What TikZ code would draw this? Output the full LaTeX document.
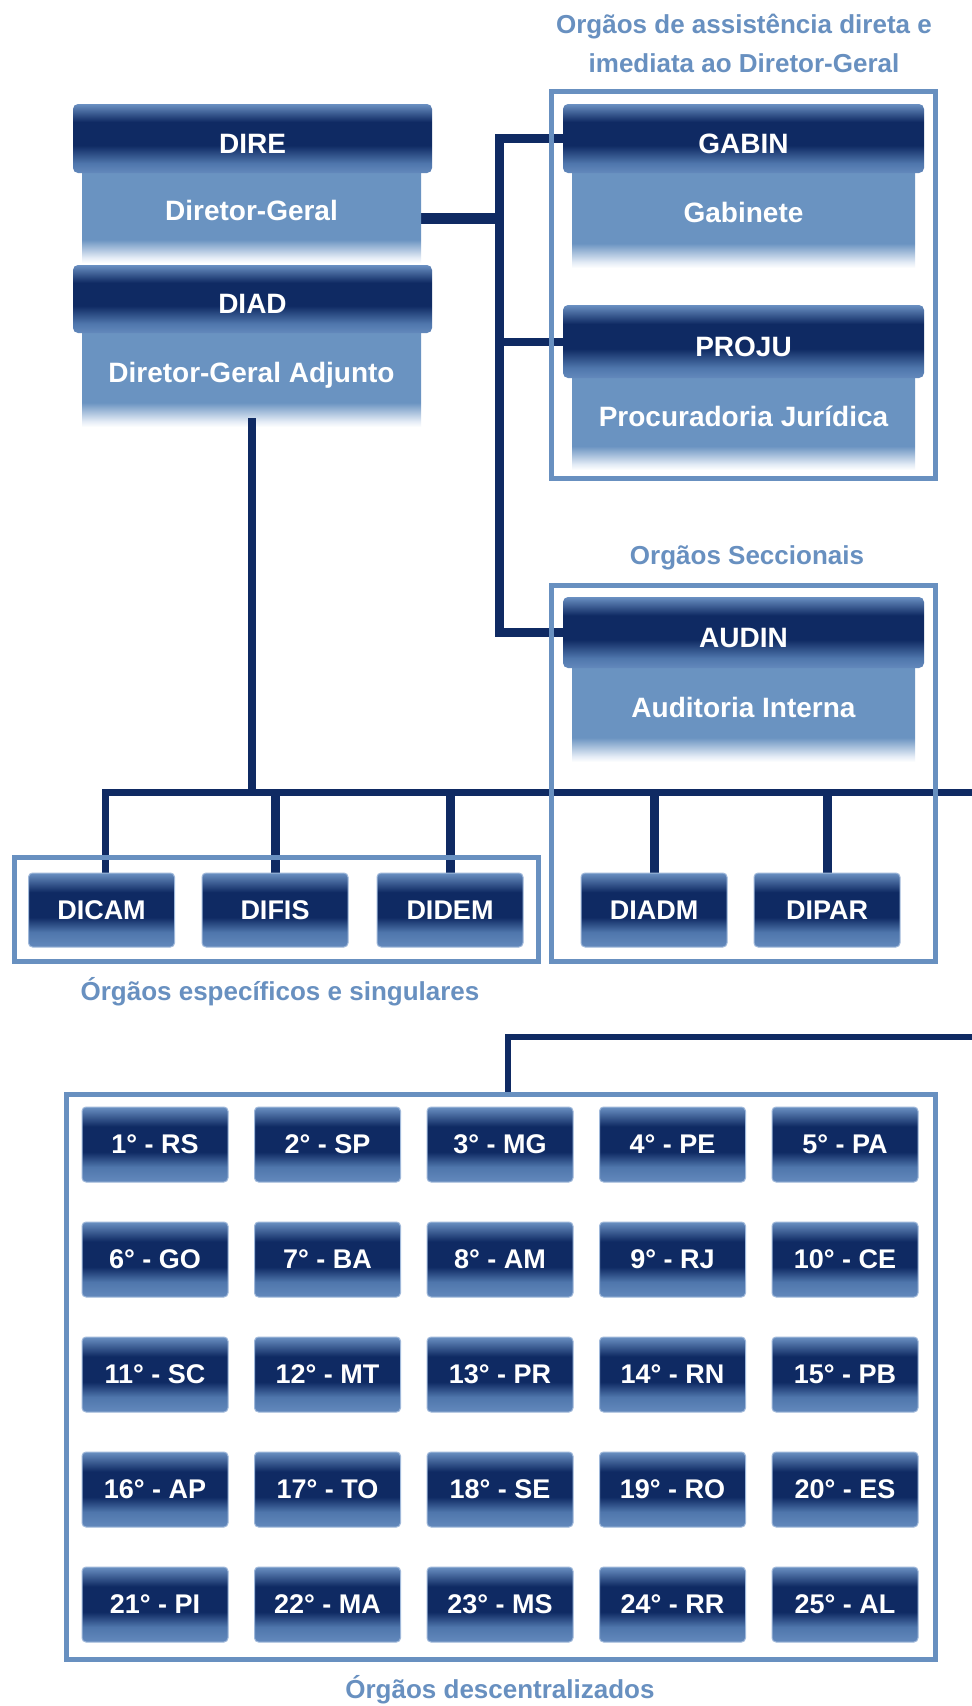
\documentclass[tikz,border=0pt]{standalone}
\usepackage{fontspec}
\setmainfont{Liberation Sans}
\definecolor{navy}{HTML}{0F2A63}
\definecolor{steel}{HTML}{6A93C1}
\definecolor{frame}{HTML}{6890C0}
\definecolor{htop}{HTML}{6A90C2}
\definecolor{hlow}{HTML}{4F76AC}
\definecolor{hbot}{HTML}{6389BC}
\definecolor{bpale}{HTML}{E4ECF6}
\definecolor{bedge}{HTML}{9FB8DA}
\pgfdeclareverticalshading{hdrshade}{100bp}{color(0bp)=(hbot); color(25bp)=(hbot); color(32bp)=(hlow); color(45bp)=(navy); color(62bp)=(navy); color(75bp)=(htop); color(100bp)=(htop)}
\pgfdeclareverticalshading{bodyshade}{100bp}{color(0bp)=(white); color(25bp)=(white); color(28bp)=(bpale); color(38bp)=(steel); color(75bp)=(steel); color(100bp)=(steel)}
\pgfdeclareverticalshading{boxshade}{100bp}{color(0bp)=(hbot); color(25bp)=(hbot); color(35bp)=(hlow); color(45bp)=(navy); color(62bp)=(navy); color(75bp)=(htop); color(100bp)=(htop)}
\pgfdeclarelayer{bgl}
\pgfdeclarelayer{connl}
\pgfdeclarelayer{framel}
\pgfsetlayers{bgl,connl,framel,main}
\newcommand\hdrfont{\fontsize{28}{34}\selectfont\bfseries}
\newcommand\boxfont{\fontsize{27}{32}\selectfont\bfseries}
\newcommand\ttlfont{\fontsize{26}{39}\selectfont\bfseries}
\begin{document}
\begin{tikzpicture}[x=1pt,y=-1pt,
  hdr/.style={shade, shading=hdrshade, rounded corners=5pt, inner sep=0pt, outer sep=0pt, text=white, font=\hdrfont, minimum width=359pt, text height=29pt, text depth=0pt},
  bodybox/.style={shade, shading=bodyshade, inner sep=0pt, outer sep=0pt, text=white, font=\hdrfont, minimum width=339pt, text height=20pt, text depth=16pt},
  gbox/.style={shade, shading=boxshade, rounded corners=4pt, draw=bedge, line width=1pt, minimum width=146pt, minimum height=74pt, inner sep=0pt, outer sep=0pt, text=white, font=\boxfont},
  frm/.style={draw=frame, line width=5pt, inner sep=0pt, outer sep=0pt},
  ttl/.style={text=frame, font=\ttlfont, align=center},
  conn/.style={draw=navy, line width=8pt}]
\begin{pgfonlayer}{bgl}
\fill[white] (0,0) rectangle (972,1706);
\end{pgfonlayer}
\useasboundingbox (0,0) rectangle (972,1706);

% titles
\node[ttl] (t1) at (744,43) {Orgãos de assistência direta e\\imediata ao Diretor-Geral};
\node[ttl] (t2) at (747,558) {Orgãos Seccionais};
\node[ttl] (t3) at (280,992) {Órgãos específicos e singulares};
\node[ttl] (t4) at (500,1690) {Órgãos descentralizados};

% left column
\node[bodybox, minimum height=90pt] (direb) at (251.5,218) {Diretor-Geral};
\node[hdr, minimum height=69pt] (dire) at (252.5,138.5) {DIRE};
\node[bodybox, minimum height=94pt] (diadb) at (251.5,380) {Diretor-Geral Adjunto};
\node[hdr, minimum height=68pt] (diad) at (252.5,299) {DIAD};

% right column
\node[bodybox, minimum width=343pt, minimum height=95pt] (gabinb) at (743.5,220.5) {Gabinete};
\node[hdr, minimum width=361pt, minimum height=69pt] (gabin) at (743.5,138.5) {GABIN};
\node[bodybox, minimum width=343pt, minimum height=92pt] (projub) at (743.5,424) {Procuradoria Jurídica};
\node[hdr, minimum width=361pt, minimum height=73pt] (proju) at (743.5,341.5) {PROJU};
\node[bodybox, minimum width=343pt, minimum height=94pt] (audinb) at (743.5,715) {Auditoria Interna};
\node[hdr, minimum width=361pt, minimum height=71pt] (audin) at (743.5,632.5) {AUDIN};

% second level
\node[gbox] (dicam) at (101.5,910) {DICAM};
\node[gbox] (difis) at (275,910) {DIFIS};
\node[gbox] (didem) at (450,910) {DIDEM};
\node[gbox] (diadm) at (654,910) {DIADM};
\node[gbox] (dipar) at (827,910) {DIPAR};

% regional grid
\foreach \lab [count=\i from 0] in {1° - RS,2° - SP,3° - MG,4° - PE,5° - PA,6° - GO,7° - BA,8° - AM,9° - RJ,10° - CE,11° - SC,12° - MT,13° - PR,14° - RN,15° - PB,16° - AP,17° - TO,18° - SE,19° - RO,20° - ES,21° - PI,22° - MA,23° - MS,24° - RR,25° - AL}{
  \pgfmathtruncatemacro\col{mod(\i,5)}
  \pgfmathtruncatemacro\row{int(\i/5)}
  \node[gbox, minimum height=75pt] (r\i) at ({155+172.5*\col},{1144.5+115*\row}) {\lab};
}

% frames
\begin{pgfonlayer}{framel}
\node[frm, minimum width=384pt, minimum height=387pt] (f1) at (743,284.5) {};
\node[frm, minimum width=384pt, minimum height=376pt] (f2) at (743,773) {};
\node[frm, minimum width=524pt, minimum height=104pt] (f3) at (276,909) {};
\node[frm, minimum width=869pt, minimum height=565pt] (f4) at (500.5,1376.5) {};
\end{pgfonlayer}

% connectors
\begin{pgfonlayer}{connl}
\coordinate (tx) at (499,0);
\coordinate (busR) at (972,792);
\coordinate (g4R) at (972,1037);
\coordinate (g4in) at (508,1094);
\draw[conn, line width=11pt] (direb.east) -- (direb.east -| tx);
\draw[conn, line width=9pt] (gabin.west) -| (tx |- audin.west) -- (audin.west);
\draw[conn] (proju.west) -- (proju.west -| tx);
\draw[conn, line width=7pt] (busR) -| ([xshift=4pt]dicam.north);
\foreach \n in {difis,didem,diadm,dipar}{
  \draw[conn, line width=9pt] (\n.north) -- (\n.north |- busR);
}
\draw[conn, line width=6pt] (g4R) -| (g4in);
\end{pgfonlayer}
\draw[conn] ([yshift=9pt]diadb.south) -- (diadb.south |- busR);
\end{tikzpicture}
\end{document}
